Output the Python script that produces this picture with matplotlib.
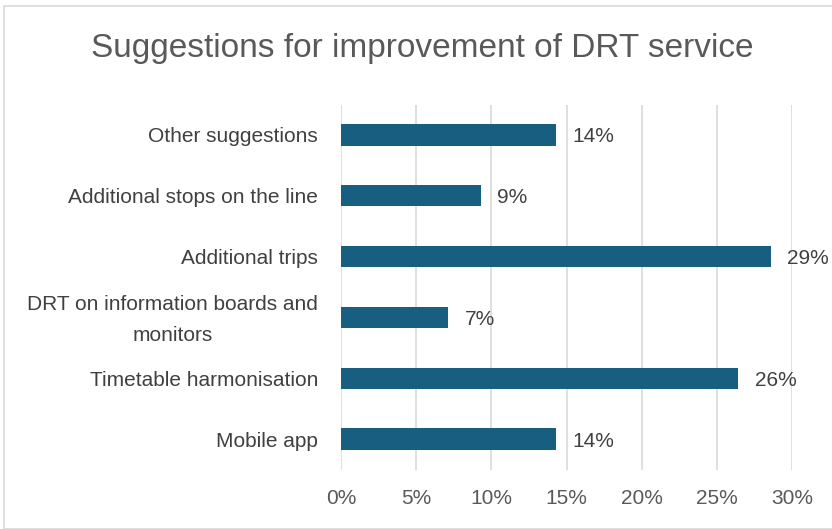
import matplotlib.pyplot as plt
import matplotlib.font_manager as fm
import matplotlib.transforms as mtransforms
from matplotlib.patches import Rectangle
from matplotlib.ticker import FuncFormatter

# survey answers, drawn bottom to top
categories = ['Mobile app', 'Timetable harmonisation',
              'DRT on information boards and\nmonitors', 'Additional trips',
              'Additional stops on the line', 'Other suggestions']
shares = [14.29, 26.43, 7.14, 28.57, 9.29, 14.29]
xticks = [0, 5, 10, 15, 20, 25, 30]

names = {f.name for f in fm.fontManager.ttflist}
base = 'Liberation Sans' if 'Liberation Sans' in names else 'DejaVu Sans'
plt.rcParams['font.family'] = [base, 'DejaVu Sans']

fig = plt.figure(figsize=(8.32, 5.29), dpi=100)
fig.patches.append(Rectangle((4 / 832, 0), 1, 1 - 6 / 529, transform=fig.transFigure,
                             fill=False, edgecolor='#d9d9d9', linewidth=1.2))
ax = fig.add_axes([341 / 832, 1 - 469.5 / 529, 451 / 832, 365 / 529])

bar_color = '#175e80'
y = range(len(categories))
ax.barh(y, shares, height=0.35, color=bar_color, zorder=3)
for yi, v in zip(y, shares):
    ax.text(v + 1.1, yi, f'{round(v)}%', va='center_baseline', ha='left',
            fontsize=15, color='#404040')

ax.set_xlim(0, 30)
ax.set_ylim(-0.5, len(categories) - 0.5)
ax.set_xticks(xticks)
ax.xaxis.set_major_formatter(FuncFormatter(lambda v, p: f'{v:.0f}%'))
ax.set_yticks(list(y))
ax.set_yticklabels(categories, multialignment='center', linespacing=1.75)
ax.tick_params(axis='x', length=0, pad=14, labelsize=15, labelcolor='#595959')
ax.tick_params(axis='y', length=0, pad=16.5, labelsize=15, labelcolor='#404040')
ax.grid(axis='x', color='#d9d9d9', linewidth=1.2, zorder=0)
for s in ax.spines.values():
    s.set_visible(False)

# nudge the two-line label up so both lines sit around its bar
for lbl in ax.get_yticklabels():
    if '\n' in lbl.get_text():
        lbl.set_transform(lbl.get_transform() +
                          mtransforms.ScaledTranslation(0, 5 / 100, fig.dpi_scale_trans))

fig.text(422 / 832, 1 - 49 / 529, 'Suggestions for improvement of DRT service',
         ha='center', va='center', fontsize=24, color='#595959')

fig.savefig('out.png', dpi=100)
